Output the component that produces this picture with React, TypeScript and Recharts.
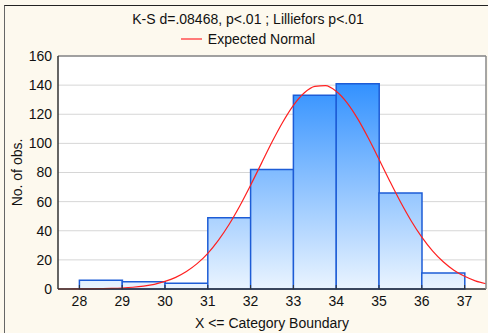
import React from 'react'
import { ComposedChart, Bar, Line, XAxis, YAxis, CartesianGrid, Legend, ReferenceArea } from 'recharts'

// histogram bins (X <= upper boundary)
const binLower = [28, 29, 30, 31, 32, 33, 34, 35, 36]
const binUpper = [29, 30, 31, 32, 33, 34, 35, 36, 37]
const binCounts = [6, 5, 4, 49, 82, 133, 141, 66, 11]

// expected normal curve
const normalX = [
  27.5, 27.75, 28, 28.25, 28.5, 28.75, 29, 29.25, 29.5, 29.75,
  30, 30.25, 30.5, 30.75, 31, 31.25, 31.5, 31.75, 32, 32.25,
  32.5, 32.75, 33, 33.25, 33.5, 33.75, 34, 34.25, 34.5, 34.75,
  35, 35.25, 35.5, 35.75, 36, 36.25, 36.5, 36.75, 37, 37.25, 37.5,
]
const normalY = [
  0, 0, 0.1, 0.1, 0.2, 0.4, 0.7, 1.2, 2.0, 3.2,
  5.2, 8.0, 12.0, 17.4, 24.5, 33.6, 44.5, 57.2, 71.3, 86.1,
  100.9, 114.5, 126.1, 134.6, 139.2, 139.7, 135.8, 128.0, 117.0, 103.7,
  89.1, 74.2, 59.9, 46.9, 35.6, 26.2, 18.7, 12.9, 8.7, 5.6, 3.6,
]

const xTicks = [28, 29, 30, 31, 32, 33, 34, 35, 36, 37]
const yTicks = [0, 20, 40, 60, 80, 100, 120, 140, 160]
const xDomain = [27.5, 37.5]
const yDomain = [0, 160]

const title = 'K-S d=.08468, p<.01 ; Lilliefors p<.01'

const bins = binUpper.map((hi, i) => ({ x: (binLower[i] + hi) / 2, count: binCounts[i] }))
const curve = normalX.map((x, i) => ({ x, expected: normalY[i] }))

const font = '"Liberation Sans", Arial, sans-serif'
const tickStyle = { fill: '#111', fontSize: 14, fontFamily: font }

const renderLegend = () => (
  <div style={{ display: 'flex', justifyContent: 'center', alignItems: 'center', fontFamily: font, fontSize: 14, color: '#111' }}>
    <svg width={21} height={4} style={{ marginRight: 6 }}>
      <line x1={0} y1={2} x2={21} y2={2} stroke="#ff5a5a" strokeWidth={1.6} />
    </svg>
    <span>Expected Normal</span>
  </div>
)

const App = () => (
  <div style={{ position: 'absolute', left: 0, top: 0, width: 488, height: 333, background: '#fdf9ee', overflow: 'hidden' }}>
    <div style={{ position: 'absolute', left: 4, top: 5, width: 600, height: 400, borderLeft: '1px solid #666', borderTop: '1px solid #222' }} />
    <div style={{ position: 'absolute', left: 0, top: 11, width: 496, textAlign: 'center', fontFamily: font, fontSize: 14, color: '#111' }}>
      {title}
    </div>
    <ComposedChart
      width={488}
      height={333}
      data={bins}
      margin={{ top: 55, right: 1, bottom: 0, left: 0 }}
      barCategoryGap={0}
      barGap={0}
    >
      <defs>
        <linearGradient id="barFill" x1="0" y1="56" x2="0" y2="289" gradientUnits="userSpaceOnUse">
          <stop offset="0%" stopColor="#1a84ff" />
          <stop offset="100%" stopColor="#eaf4ff" />
        </linearGradient>
      </defs>
      <CartesianGrid xAxisId="bins" vertical={false} stroke="#d6d6d6" fill="#ffffff" />
      <XAxis
        xAxisId="bins"
        type="number"
        dataKey="x"
        domain={xDomain}
        ticks={xTicks}
        height={44}
        tickSize={-4}
        tickMargin={11}
        tickLine={{ stroke: '#333' }}
        axisLine={{ stroke: '#333', strokeWidth: 1.5 }}
        tick={tickStyle}
        label={{ value: 'X <= Category Boundary', position: 'insideBottom', offset: 5, style: { fill: '#111', fontSize: 14, fontFamily: font } }}
      />
      <XAxis xAxisId="curve" type="number" dataKey="x" domain={xDomain} allowDataOverflow hide />
      <XAxis
        xAxisId="top"
        orientation="top"
        type="number"
        domain={xDomain}
        ticks={xTicks}
        allowDataOverflow
        height={1}
        tick={false}
        tickSize={-4}
        tickLine={{ stroke: '#333' }}
        axisLine={{ stroke: '#888', strokeWidth: 1.5 }}
      />
      <YAxis
        domain={yDomain}
        ticks={yTicks}
        width={58}
        tickSize={0}
        tickMargin={6}
        axisLine={{ stroke: '#333', strokeWidth: 1.5 }}
        tick={tickStyle}
        label={{ value: 'No. of obs.', angle: -90, position: 'insideLeft', offset: 17, style: { textAnchor: 'middle', fill: '#111', fontSize: 14, fontFamily: font } }}
      />
      <YAxis
        yAxisId="right"
        orientation="right"
        domain={yDomain}
        ticks={yTicks}
        allowDataOverflow
        width={1}
        tick={false}
        tickSize={-4}
        tickLine={{ stroke: '#333' }}
        axisLine={{ stroke: '#888', strokeWidth: 1.5 }}
      />
      <Bar
        xAxisId="bins"
        dataKey="count"
        fill="url(#barFill)"
        stroke="#1d5cd6"
        strokeWidth={1.5}
        legendType="none"
        isAnimationActive={false}
      />
      <Line
        xAxisId="curve"
        data={curve}
        dataKey="expected"
        name="Expected Normal"
        type="monotone"
        stroke="#ff2020"
        strokeWidth={1.2}
        dot={false}
        activeDot={false}
        isAnimationActive={false}
      />
      <Legend verticalAlign="middle" align="center" content={renderLegend} wrapperStyle={{ top: 31, left: 0, width: 496 }} />
    </ComposedChart>
  </div>
)

export default App
